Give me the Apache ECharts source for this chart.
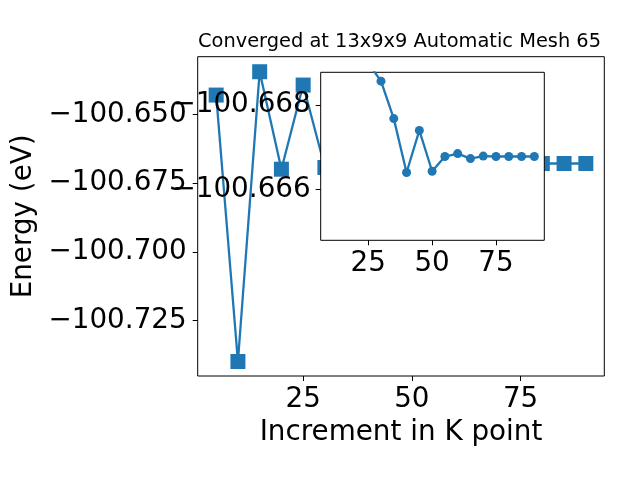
<!DOCTYPE html>
<html>
<head>
<meta charset="utf-8">
<script src="https://cdn.jsdelivr.net/npm/echarts@6/dist/echarts.min.js"></script>
<style>
html,body{margin:0;padding:0;background:#fff;}
#c{width:640px;height:480px;}
</style>
</head>
<body>
<div id="c"></div>
<script>
// Main series (square markers)
const mainX = [5, 10, 15, 20, 25, 30, 35, 40, 45, 50, 55, 60, 65, 70, 75, 80, 85, 90];
const mainY = [-100.64297, -100.73993, -100.63448, -100.66995, -100.63933, -100.66933,
  -100.6672, -100.6690, -100.6665, -100.6682, -100.6676, -100.6680, -100.6678, -100.6679, -100.6679,
  -100.66787, -100.66787, -100.66787];
// Inset series (circle markers)
const insetX = [25, 30, 35, 40, 45, 50, 55, 60, 65, 70, 75, 80, 85, 90];
const insetY = [-100.6690, -100.66857, -100.66768, -100.66640, -100.66740, -100.66643,
  -100.66678, -100.66685, -100.66673, -100.66679, -100.66678, -100.66678, -100.66678, -100.66678];
// Tick labels
const mainXTicks = [25, 50, 75];
const mainYTicks = [-100.725, -100.700, -100.675, -100.650];
const insetXTicks = [25, 50, 75];
const insetYTicks = [-100.668, -100.666];

const titleText = 'Converged at 13x9x9 Automatic Mesh 65';
const xName = 'Increment in K point';
const yName = 'Energy (eV)';

const FONT = 'DejaVu Sans';
const BLUE = '#1f77b4';
const fmtY = v => (v < 0 ? '\u2212' : '') + Math.abs(v).toFixed(3);

const chart = echarts.init(document.getElementById('c'), null, {renderer: 'canvas'});
const axisCommon = {
  axisLine: {show: false},
  splitLine: {show: false},
  axisTick: {show: true, length: 5, lineStyle: {color: '#000', width: 1}},
  axisLabel: {color: '#000', fontFamily: FONT, fontSize: 27.8}
};
chart.setOption({
  animation: false,
  backgroundColor: '#fff',
  title: {
    text: titleText, left: 198, top: 32, padding: 0,
    textStyle: {fontFamily: FONT, fontSize: 19.4, fontWeight: 'normal', color: '#000'}
  },
  grid: [
    {left: 197.7, top: 56.7, width: 406.6, height: 319.3, show: true, borderColor: '#000', borderWidth: 1, backgroundColor: 'transparent'},
    {left: 320.7, top: 72.3, width: 223.6, height: 168, show: true, borderColor: '#000', borderWidth: 1, backgroundColor: '#fff', zlevel: 1, z: 0}
  ],
  xAxis: [
    Object.assign({}, axisCommon, {
      type: 'value', gridIndex: 0, min: 0.75, max: 94.25,
      name: xName, nameLocation: 'middle', nameGap: 43,
      nameTextStyle: {fontFamily: FONT, fontSize: 27.8, color: '#000'},
      axisTick: Object.assign({}, axisCommon.axisTick, {customValues: mainXTicks}),
      axisLabel: Object.assign({}, axisCommon.axisLabel, {customValues: mainXTicks, margin: 10})
    }),
    Object.assign({}, axisCommon, {
      type: 'value', gridIndex: 1, min: 6.4, max: 93.9, zlevel: 1,
      axisTick: Object.assign({}, axisCommon.axisTick, {customValues: insetXTicks}),
      axisLabel: Object.assign({}, axisCommon.axisLabel, {customValues: insetXTicks, margin: 9})
    })
  ],
  yAxis: [
    Object.assign({}, axisCommon, {
      type: 'value', gridIndex: 0, min: -100.74520, max: -100.62901,
      name: yName, nameLocation: 'middle', nameGap: 153,
      nameTextStyle: {fontFamily: FONT, fontSize: 27.8, color: '#000'},
      axisTick: Object.assign({}, axisCommon.axisTick, {customValues: mainYTicks}),
      axisLabel: Object.assign({}, axisCommon.axisLabel, {customValues: mainYTicks, margin: 11, formatter: fmtY})
    }),
    Object.assign({}, axisCommon, {
      type: 'value', gridIndex: 1, min: -100.66878, max: -100.66479, inverse: true, zlevel: 1,
      axisTick: Object.assign({}, axisCommon.axisTick, {customValues: insetYTicks}),
      axisLabel: Object.assign({}, axisCommon.axisLabel, {customValues: insetYTicks, margin: 10, formatter: fmtY})
    })
  ],
  series: [
    {
      type: 'line', xAxisIndex: 0, yAxisIndex: 0,
      data: mainX.map((x, i) => [x, mainY[i]]),
      symbol: 'rect', symbolSize: 15, clip: true,
      lineStyle: {color: BLUE, width: 2.3},
      itemStyle: {color: BLUE, borderWidth: 0}
    },
    {
      type: 'line', xAxisIndex: 1, yAxisIndex: 1, zlevel: 1,
      data: insetX.map((x, i) => [x, insetY[i]]),
      symbol: 'circle', symbolSize: 9, clip: true,
      lineStyle: {color: BLUE, width: 2.3},
      itemStyle: {color: BLUE, borderWidth: 0}
    }
  ]
});
</script>
</body>
</html>
